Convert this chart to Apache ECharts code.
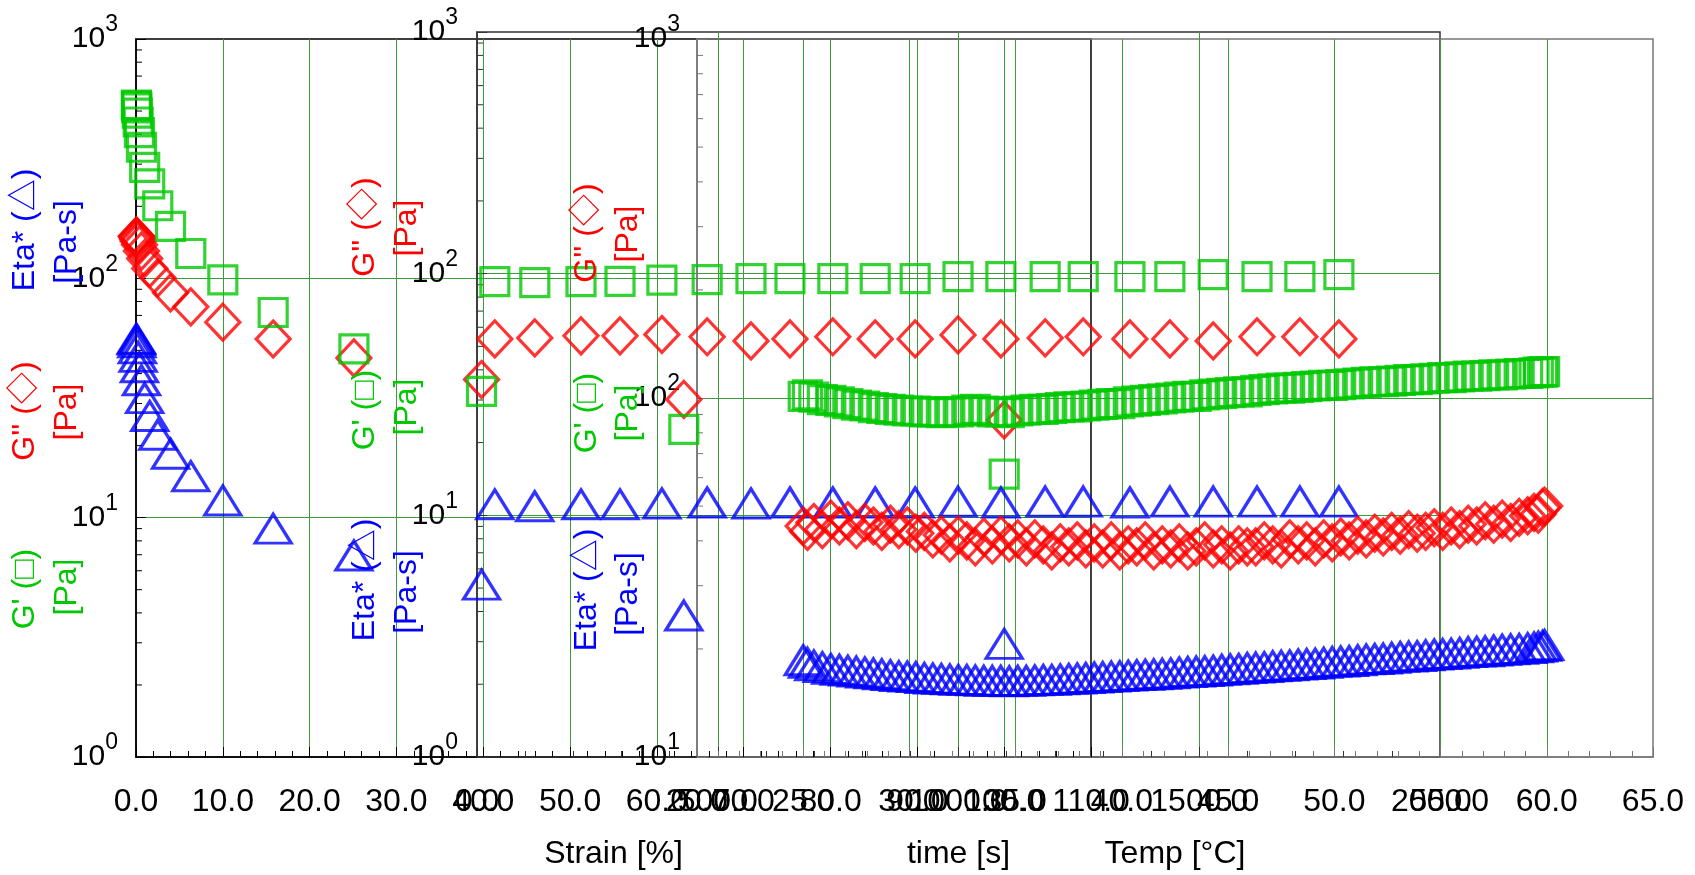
<!DOCTYPE html>
<html><head><meta charset="utf-8">
<script src="https://cdn.jsdelivr.net/npm/echarts@6/dist/echarts.min.js"></script>
<style>html,body{margin:0;padding:0;background:#fff}#c{width:1695px;height:875px}</style>
</head><body><div id="c"></div>
<script>
// ---------- data ----------
// Strain sweep (grid 1)
const strainPct = [0.0398, 0.0631, 0.1, 0.158, 0.251, 0.398, 0.631, 1.0, 1.58, 2.51, 3.98, 6.31, 10.0, 15.8, 25.1, 39.8, 63.1, 100.0];
const strainGp  = [530, 525, 515, 490, 450, 406, 353, 291, 248, 201, 165, 127, 98.6, 72, 50.7, 33.7, 23.4, 15.2];
const strainGpp = [150, 150, 149, 146, 143, 138, 130, 121, 110, 100.5, 87, 76, 65.6, 55.8, 46.5, 37.8, 31.2, 25.6];
const strainEta = [56, 55.5, 54, 51, 47, 42.5, 37.5, 31.6, 26.6, 22.2, 18.5, 14.9, 11.8, 9.0, 6.95, 5.25, 3.9, 2.97];

// Time sweep (grid 2)
const timeS   = [37, 120, 216, 297, 384, 478, 569, 650, 739, 827, 910, 999, 1088, 1180, 1259, 1356, 1439, 1529, 1620, 1709, 1790];
const timeGp  = [92.7, 91.9, 92.7, 93.0, 94.0, 94.5, 95.4, 95.4, 95.4, 95.4, 95.4, 97.2, 97.2, 97.2, 97.2, 97.2, 97.2, 99.1, 97.2, 97.2, 99.1];
const timeGpp = [53.7, 54.2, 55.3, 55.3, 56.0, 54.8, 52.7, 53.7, 54.8, 53.7, 53.7, 55.8, 53.7, 54.2, 54.8, 53.7, 53.7, 52.7, 54.8, 54.8, 53.7];
const timeEta = [11.1, 10.9, 11.1, 11.1, 11.2, 11.3, 11.2, 11.3, 11.3, 11.3, 11.3, 11.4, 11.3, 11.4, 11.4, 11.3, 11.4, 11.4, 11.4, 11.4, 11.4];

// Temperature ramp (grid 3)
const tempC = [25.0, 25.2, 25.5, 25.9, 26.3, 26.7, 27.1, 27.5, 27.9, 28.3, 28.7, 29.1, 29.5, 29.9, 30.3, 30.7, 31.1, 31.5, 31.9, 32.3,
  32.7, 33.1, 33.5, 33.9, 34.3, 34.7, 35.1, 35.5, 35.9, 36.3, 36.7, 37.1, 37.5, 37.9, 38.3, 38.7, 39.1, 39.5, 39.9, 40.3,
  40.7, 41.1, 41.5, 41.9, 42.3, 42.7, 43.1, 43.5, 43.9, 44.3, 44.7, 45.1, 45.5, 45.9, 46.3, 46.7, 47.1, 47.5, 47.9, 48.3,
  48.7, 49.1, 49.5, 49.9, 50.3, 50.7, 51.1, 51.5, 51.9, 52.3, 52.7, 53.1, 53.5, 53.9, 54.3, 54.7, 55.1, 55.5, 55.9, 56.3,
  56.7, 57.1, 57.5, 57.9, 58.3, 58.7, 59.1, 59.4, 59.6, 59.8, 59.9];
const tempGp = [101, 102, 100.5, 99, 98.5, 97.5, 96.5, 95.5, 95, 94, 93.5, 93, 92.5, 92, 92, 91.5, 91.5, 91, 91.5, 91.5,
  92.5, 93, 92, 91.5, 91.5, 91, 92, 92.5, 93, 93, 93.5, 94, 94.5, 94.5, 95, 95.5, 96, 96.5, 96.5, 97.5,
  98, 98.5, 99, 99.5, 100, 100.5, 101, 101, 102, 102.5, 103, 103.5, 104, 104, 105, 105.5, 106, 106.5, 106.5, 107,
  107.5, 108, 108.5, 108.5, 109, 109.5, 110, 110.5, 111, 111, 111.5, 112, 112.5, 112.5, 113, 113.5, 114, 114, 114.5, 115,
  115, 115.5, 116, 116, 116.5, 117, 117, 117.5, 118, 118, 118.5];
const tempGpp = [44, 42.5, 45, 43, 46, 44, 45.5, 43, 45, 44, 42.5, 44.5, 43, 44, 42,
  42.5, 40.5, 41.5, 39.5, 41.5, 40, 38.5, 41, 39, 41.5, 39.5, 40.5, 38.5, 40.5, 39, 37.5, 39.5, 38.5, 40,
  38, 39.5, 38, 40, 37.5, 39, 38.5, 40, 37.5, 39, 38, 39.5, 37.5, 38.5, 40, 38, 39, 37.5, 39, 38.5,
  38.5, 40, 39, 38, 40.5, 39, 40, 38.5, 40.5, 39.5, 41, 40,
  41.5, 40.5, 42, 41, 42.5, 41.5, 43, 42, 42.5, 43.5, 42.5, 44,
  43, 44.5, 44, 45.5, 44.5, 46, 45, 46.5,
  47, 48, 47.5, 49.5, 50];
const tempEta = [18.6, 18.3, 18.0, 17.8, 17.6, 17.5, 17.4, 17.3, 17.2, 17.1, 17.0, 16.9, 16.8, 16.75, 16.7, 16.6, 16.55, 16.5, 16.45, 16.4,
  16.4, 16.35, 16.3, 16.3, 16.3, 16.25, 16.3, 16.3, 16.35, 16.4, 16.4, 16.45, 16.5, 16.55, 16.6, 16.65, 16.7, 16.75, 16.8, 16.85,
  16.9, 16.95, 17.0, 17.05, 17.1, 17.2, 17.25, 17.3, 17.35, 17.4, 17.5, 17.55, 17.6, 17.7, 17.75, 17.8, 17.9, 17.95, 18.0, 18.1,
  18.15, 18.2, 18.3, 18.4, 18.45, 18.5, 18.6, 18.7, 18.75, 18.8, 18.9, 19.0, 19.05, 19.1, 19.2, 19.3, 19.35, 19.4, 19.5, 19.6,
  19.65, 19.7, 19.8, 19.9, 19.95, 20.0, 20.1, 20.2, 20.3, 20.4, 20.5];

// log minor tick values
const minorVals3 = [2,3,4,5,6,7,8,9,20,30,40,50,60,70,80,90,200,300,400,500,600,700,800,900];
const minorVals2 = [20,30,40,50,60,70,80,90,200,300,400,500,600,700,800,900];

// axis titles
const T_ETA = 'Eta* (△)', T_ETA_U = '[Pa-s]';
const T_GPP = "G'' (◇)", T_GP = "G' (□)", T_PA = '[Pa]';

// ---------- chart ----------
const FONT = '"Liberation Sans", Arial, "DejaVu Sans", sans-serif';
const TFONT = '"Liberation Sans", Arial, "Noto Sans CJK JP", "DejaVu Sans", sans-serif';
const RED = '#ff0000', GREEN = '#00c800', BLUE = '#0000ff', GRIDC = '#3c9c3c';

function pairs(xs, ys){ return xs.map((x,i)=>[x, ys[i]]); }
function yLab(v){ return '{b|10}{s|' + Math.round(Math.log10(v)) + '}'; }

function yAxis(gi, min, max, color, margin){
  return {
    type:'log', logBase:10, gridIndex:gi, min:min, max:max,
    axisLine:{show:true, lineStyle:{color:color, width:1.5}},
    axisTick:{show:true, inside:true, length:10, lineStyle:{color:color}},
    axisLabel:{formatter:yLab, margin:margin,
      rich:{
        b:{fontSize:30, fontFamily:FONT, color:'#000', lineHeight:30},
        s:{fontSize:23, fontFamily:FONT, color:'#000', lineHeight:23, padding:[0,0,28,0]}
      }},
    splitLine:{show:true, showMinLine:false, showMaxLine:false, lineStyle:{color:GRIDC, width:1}}
  };
}
function xAxis(gi, min, max, interval, name, color){
  return {
    type:'value', gridIndex:gi, min:min, max:max, interval:interval,
    axisLine:{show:true, lineStyle:{color:color, width:1.5}},
    axisTick:{show:true, inside:true, length:10, lineStyle:{color:color}},
    minorTick:{show:true, splitNumber:5, length:6, lineStyle:{color:color}},
    axisLabel:{formatter:v=>v.toFixed(1), fontSize:32, fontFamily:FONT, color:'#000', margin:29},
    splitLine:{show:true, showMinLine:false, showMaxLine:false, lineStyle:{color:GRIDC, width:1}},
    name:name, nameLocation:'middle', nameGap:81,
    nameTextStyle:{fontSize:32, fontFamily:FONT, color:'#000'}
  };
}
function sc(name, gi, data, sym, size, color){
  return {
    name:name, type:'scatter', xAxisIndex:gi, yAxisIndex:gi, data:data,
    symbol:sym, symbolSize:size,
    itemStyle:{color:'rgba(0,0,0,0)', borderColor:color, borderWidth:3.2},
    emphasis:{disabled:true}, silent:true
  };
}
function minorTicks(gi, xv, vals, color){
  return {
    type:'custom', xAxisIndex:gi, yAxisIndex:gi, silent:true,
    data: vals.map(v=>[xv, v]),
    renderItem:function(params, api){
      const p = api.coord([api.value(0), api.value(1)]);
      return {type:'line', shape:{x1:p[0], y1:p[1], x2:p[0]+6, y2:p[1]},
              style:{stroke:color, lineWidth:1}};
    }
  };
}

const SQ = 28, DI = [34, 36], TR = [36, 29];

const titles = [
  [T_ETA, BLUE, 25, 230], [T_ETA_U, BLUE, 67, 242],
  [T_GPP, RED, 25, 411], [T_PA, RED, 67, 412],
  [T_GP, GREEN, 25, 589], [T_PA, GREEN, 67, 587],
  [T_GPP, RED, 365, 227], [T_PA, RED, 407, 228],
  [T_GP, GREEN, 365, 410], [T_PA, GREEN, 407, 407],
  [T_ETA, BLUE, 365, 580], [T_ETA_U, BLUE, 407, 592],
  [T_GPP, RED, 587, 233], [T_PA, RED, 628, 234],
  [T_GP, GREEN, 587, 413], [T_PA, GREEN, 628, 413],
  [T_ETA, BLUE, 587, 590], [T_ETA_U, BLUE, 628, 594]
];

const option = {
  animation:false,
  backgroundColor:'#fff',
  grid:[
    {left:136, top:39, width:955, height:728, show:true, borderColor:'#000', borderWidth:1.5, backgroundColor:'transparent'},
    {left:477, top:32, width:963, height:734, show:true, borderColor:'#333', borderWidth:1.5, backgroundColor:'transparent'},
    {left:697, top:39, width:956, height:727, show:true, borderColor:'#777', borderWidth:1.5, backgroundColor:'transparent'}
  ],
  xAxis:[
    xAxis(0, 0, 110, 10, 'Strain [%]', '#000'),
    xAxis(1, 0, 2000, 500, 'time [s]', '#333'),
    xAxis(2, 20, 65, 5, 'Temp [°C]', '#777')
  ],
  yAxis:[
    yAxis(0, 1, 1000, '#000', 18),
    yAxis(1, 1, 1000, '#333', 19),
    yAxis(2, 10, 1000, '#777', 17)
  ],
  graphic: titles.map(t=>({
    type:'text', x:t[2], y:t[3], rotation:Math.PI/2, z:100, silent:true,
    style:{text:t[0], fill:t[1], font:'32px ' + TFONT, align:'center', verticalAlign:'middle',
           textAlign:'center', textVerticalAlign:'middle'}
  })),
  series:[
    minorTicks(0, 0, minorVals3, '#000'),
    minorTicks(1, 0, minorVals3, '#333'),
    minorTicks(2, 20, minorVals2, '#777'),
    sc('strain Gpp', 0, pairs(strainPct, strainGpp), 'diamond', DI, RED),
    sc('strain Gp', 0, pairs(strainPct, strainGp), 'rect', SQ, GREEN),
    sc('strain Eta', 0, pairs(strainPct, strainEta), 'triangle', TR, BLUE),
    sc('time Gpp', 1, pairs(timeS, timeGpp), 'diamond', DI, RED),
    sc('time Gp', 1, pairs(timeS, timeGp), 'rect', SQ, GREEN),
    sc('time Eta', 1, pairs(timeS, timeEta), 'triangle', TR, BLUE),
    sc('temp Gpp', 2, pairs(tempC, tempGpp), 'diamond', DI, RED),
    sc('temp Gp', 2, pairs(tempC, tempGp), 'rect', SQ, GREEN),
    sc('temp Eta', 2, pairs(tempC, tempEta), 'triangle', TR, BLUE)
  ]
};
const chart = echarts.init(document.getElementById('c'), null, {renderer:'canvas'});
chart.setOption(option);
</script>
</body></html>
